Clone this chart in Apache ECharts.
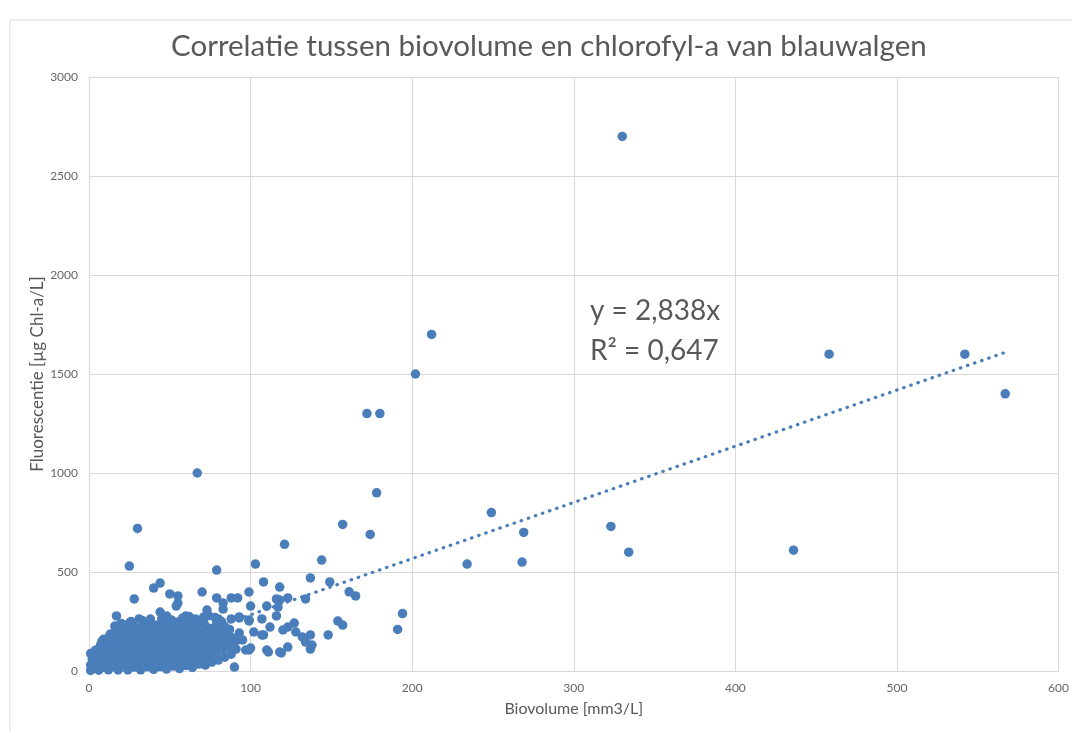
<!DOCTYPE html>
<html>
<head>
<meta charset="utf-8">
<title>Correlatie biovolume en chlorofyl-a</title>
<script src="https://cdn.jsdelivr.net/npm/echarts@6/dist/echarts.min.js"></script>
<style>
  html, body { margin: 0; padding: 0; background: #fff; }
  #chart { width: 1072px; height: 731px; }
</style>
</head>
<body>
<div id="chart"></div>
<script>

// dichte wolk bij de oorsprong
let puntenWolk = [
    [1, 3], [1, 30], [2, 60], [1, 88],
    [3, 15], [4, 45], [3, 75], [4, 105],
    [6, 4], [6, 38], [7, 70], [6, 100], [7, 128],
    [9, 20], [10, 55], [9, 90], [10, 125], [9, 160],
    [12, 6], [13, 40], [12, 75], [13, 110], [12, 145], [13, 185],
    [15, 22], [16, 57], [15, 92], [16, 127], [15, 162], [16, 200],
    [18, 5], [19, 40], [18, 75], [19, 110], [18, 145], [19, 180], [18, 212],
    [21, 22], [22, 57], [21, 92], [22, 127], [21, 162], [22, 197],
    [24, 5], [25, 40], [24, 75], [25, 110], [24, 145], [25, 180], [24, 215],
    [28, 20], [27, 57], [28, 92], [27, 127], [28, 162], [27, 197], [28, 225],
    [32, 6], [31, 40], [32, 75], [31, 110], [32, 145], [31, 180], [32, 215],
    [36, 22], [35, 57], [36, 92], [35, 127], [36, 162], [35, 197], [36, 230],
    [40, 8], [39, 40], [40, 75], [39, 110], [40, 145], [39, 180], [40, 215],
    [44, 22], [43, 57], [44, 92], [43, 127], [44, 162], [43, 197], [44, 232],
    [48, 10], [47, 40], [48, 75], [47, 110], [48, 145], [47, 180], [48, 215], [47, 245],
    [52, 25], [51, 57], [52, 92], [51, 127], [52, 162], [51, 197], [52, 230],
    [56, 12], [55, 42], [56, 75], [55, 110], [56, 145], [55, 180], [56, 215], [55, 248],
    [60, 28], [59, 60], [60, 92], [59, 127], [60, 162], [59, 197], [60, 232],
    [64, 18], [63, 45], [64, 78], [63, 110], [64, 145], [63, 180], [64, 215], [63, 250],
    [68, 35], [67, 62], [68, 95], [67, 127], [68, 162], [67, 197], [68, 235],
    [72, 30], [71, 60], [72, 90], [71, 125], [72, 160], [71, 195], [72, 228], [71, 258],
    [76, 45], [75, 80], [76, 112], [75, 148], [76, 182], [75, 215],
    [80, 55], [79, 92], [80, 130], [79, 165], [80, 200], [79, 240],
    [84, 70], [83, 110], [84, 150], [83, 185], [84, 225],
    [88, 85], [87, 130], [88, 170], [87, 210],
    // extra punten tussen de rijen
    [3, 50], [8, 150], [11, 90], [14, 140], [17, 190], [20, 240], [23, 120], [26, 250],
    [30, 200], [33, 255], [34, 110], [38, 262], [42, 180], [45, 265], [46, 60],
    [50, 140], [51, 258], [54, 95], [58, 268], [62, 175], [62, 275], [66, 262],
    [70, 110], [74, 280], [74, 200], [78, 270], [78, 130], [82, 250]
];

// losse punten boven de wolk
let puntenLaag = [
    [44, 444], [40, 419], [28, 364], [50, 389], [55, 379], [54, 328], [55, 343],
    [17, 278], [31, 263], [44, 298], [48, 278], [60, 278], [16, 227], [21, 232],
    [25, 242], [37, 232], [42, 232]
];

let puntenMidden = [
    [137, 470], [149, 450], [118, 424], [161, 400], [165, 379], [116, 364], [123, 369],
    [134, 364], [117, 323], [116, 278], [112, 222], [120, 207], [123, 222], [127, 242],
    [128, 197], [132, 172], [134, 146], [137, 182], [138, 131], [137, 111], [148, 182],
    [154, 252], [157, 232], [123, 121], [118, 96], [119, 91], [111, 96], [108, 450],
    [70, 399], [99, 399], [79, 369], [88, 369], [92, 369], [83, 343], [83, 313],
    [100, 328], [110, 328], [73, 308], [93, 268], [99, 258], [107, 263], [102, 197],
    [107, 182], [88, 263], [80, 263], [71, 273], [83, 222], [93, 192], [97, 106],
    [100, 116], [110, 106], [90, 20], [91, 157], [86, 121], [95, 157], [88, 146],
    [91, 111], [99, 106], [108, 182], [92, 157], [93, 273], [99, 253], [118, 358]
];

let puntenHoog = [
    [330, 2700], [212, 1700], [202, 1500], [172, 1300], [180, 1300], [178, 900],
    [67, 1000], [30, 720], [25, 530], [79, 510], [458, 1600], [542, 1600], [567, 1400],
    [436, 610], [323, 730], [334, 600], [249, 800], [269, 700], [268, 550], [234, 540],
    [157, 740], [174, 690], [121, 640], [144, 560], [103, 540], [194, 290], [191, 210]
];

// lineaire trendlijn door de oorsprong
let trendHelling = 2.838;
let trendBereik = [0, 567];
let trendTekst = ['y = 2,838x', 'R² = 0,647'];

let blauw = '#4a7ebb';
let grijs = '#595959';

let alle = puntenWolk.concat(puntenLaag, puntenMidden, puntenHoog);
let trendData = trendBereik.map(x => [x, x * trendHelling]);

let chart = echarts.init(document.getElementById('chart'));
let option;

option = {
    backgroundColor: '#fff',
    animation: false,
    title: {
        text: 'Correlatie tussen biovolume en chlorofyl-a van blauwalgen',
        left: 166,
        top: 26,
        textStyle: {
            fontFamily: 'Lato',
            fontSize: 29.5,
            fontWeight: 'normal',
            color: grijs
        }
    },
    grid: {
        left: 89,
        right: 8,
        top: 77,
        bottom: 60
    },
    xAxis: {
        type: 'value',
        min: 0,
        max: 600,
        interval: 100,
        name: 'Biovolume [mm3/L]',
        nameLocation: 'middle',
        nameGap: 30,
        nameTextStyle: { fontFamily: 'Lato', fontSize: 16, color: grijs },
        axisLine: { show: true, lineStyle: { color: '#d9d9d9' } },
        axisTick: { show: false },
        axisLabel: { fontFamily: 'Lato', fontSize: 12, color: '#666', margin: 11 },
        splitLine: { show: true, lineStyle: { color: '#d9d9d9' } }
    },
    yAxis: {
        type: 'value',
        min: 0,
        max: 3000,
        interval: 500,
        name: 'Fluorescentie [µg Chl-a/L]',
        nameLocation: 'middle',
        nameGap: 43,
        nameMoveOverlap: false,
        nameTextStyle: { fontFamily: 'Lato', fontSize: 17, color: grijs },
        axisLine: { show: true, lineStyle: { color: '#d9d9d9' } },
        axisTick: { show: false },
        axisLabel: {
            fontFamily: 'Lato', fontSize: 12, color: '#666', margin: 11,
            formatter: v => String(v)
        },
        splitLine: { show: true, lineStyle: { color: '#d9d9d9' } }
    },
    graphic: [
        {
            type: 'rect',
            shape: { x: 10, y: 20, width: 1100, height: 800 },
            style: { fill: 'none', stroke: '#d9d9d9', lineWidth: 1 },
            z: -10
        },
        {
            type: 'text',
            left: 590,
            top: 297,
            style: { text: trendTekst[0], fontFamily: 'Lato', fontSize: 28, fill: grijs }
        },
        {
            type: 'text',
            left: 590,
            top: 337,
            style: { text: trendTekst[1], fontFamily: 'Lato', fontSize: 28, fill: grijs }
        }
    ],
    series: [
        {
            name: 'Metingen',
            type: 'scatter',
            symbolSize: 9.5,
            itemStyle: { color: blauw, opacity: 1 },
            data: alle,
            z: 2
        },
        {
            name: 'Trend',
            type: 'line',
            data: trendData,
            symbol: 'none',
            lineStyle: { color: blauw, width: 3.2, type: [0.5, 7], cap: 'round' },
            silent: true,
            z: 3
        }
    ]
};

option && chart.setOption(option);
</script>
</body>
</html>
